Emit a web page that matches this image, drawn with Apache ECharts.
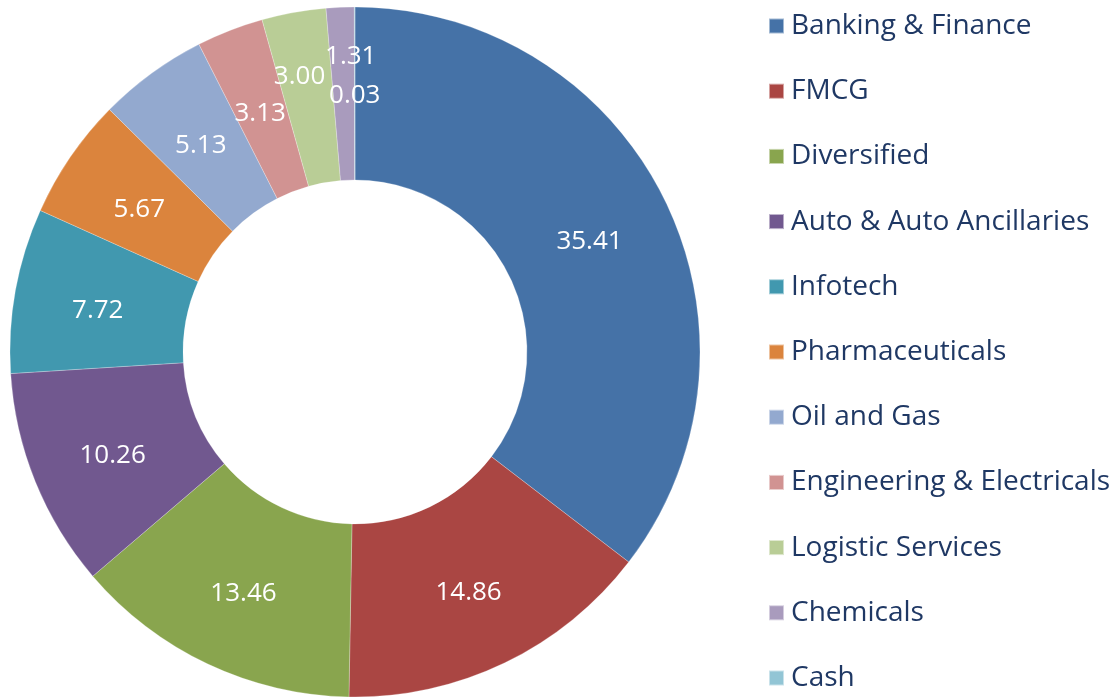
<!DOCTYPE html>
<html>
<head>
<meta charset="utf-8">
<style>
  html, body { margin: 0; padding: 0; background: #fff; }
  #chart { width: 1113px; height: 698px; }
</style>
<script src="https://cdn.jsdelivr.net/npm/echarts@6/dist/echarts.min.js"></script>
</head>
<body>
<div id="chart"></div>
<script>
// sectors and their weights (%)
var sectors = ['Banking & Finance', 'FMCG', 'Diversified', 'Auto & Auto Ancillaries', 'Infotech',
    'Pharmaceuticals', 'Oil and Gas', 'Engineering & Electricals', 'Logistic Services', 'Chemicals', 'Cash'];
var weights = [35.41, 14.86, 13.46, 10.26, 7.72, 5.67, 5.13, 3.13, 3.00, 1.31, 0.03];
var colors = ['#4572A7', '#AA4643', '#89A54E', '#71588F', '#4198AF', '#DB843D',
    '#93A9CF', '#D19392', '#B9CD96', '#A99BBD', '#92C5D5'];

var chart = echarts.init(document.getElementById('chart'));

chart.setOption({
    animation: false,
    color: colors,
    legend: {
        orient: 'vertical',
        left: 768,
        top: 12,
        height: 686,
        padding: 0,
        itemWidth: 15,
        itemHeight: 15,
        itemGap: 37.2,
        icon: 'rect',
        textStyle: {
            fontFamily: 'Open Sans',
            fontSize: 28,
            lineHeight: 28,
            color: '#1F3864',
            padding: [0, 0, 0, 2]
        },
        data: sectors
    },
    series: [
        {
            type: 'pie',
            center: [355, 352],
            radius: [172, 345],
            startAngle: 90,
            clockwise: true,
            avoidLabelOverlap: false,
            label: {
                show: true,
                position: 'inside',
                color: '#fff',
                fontFamily: 'Open Sans',
                fontSize: 26,
                formatter: function (p) {
                    return p.value.toFixed(2);
                }
            },
            labelLayout: function (p) {
                // small slices near the top have their labels nudged, as in the original
                if (p.dataIndex === 9) {
                    return { dx: 7, dy: -34 };
                }
                if (p.dataIndex === 8) {
                    return { dx: -9, dy: -18 };
                }
                return { dy: 5 };
            },
            labelLine: { show: false },
            itemStyle: {
                borderColor: 'rgba(255,255,255,0.5)',
                borderWidth: 0.5
            },
            emphasis: { disabled: true },
            data: sectors.map(function (name, i) {
                return { name: name, value: weights[i] };
            })
        }
    ]
});
</script>
</body>
</html>
